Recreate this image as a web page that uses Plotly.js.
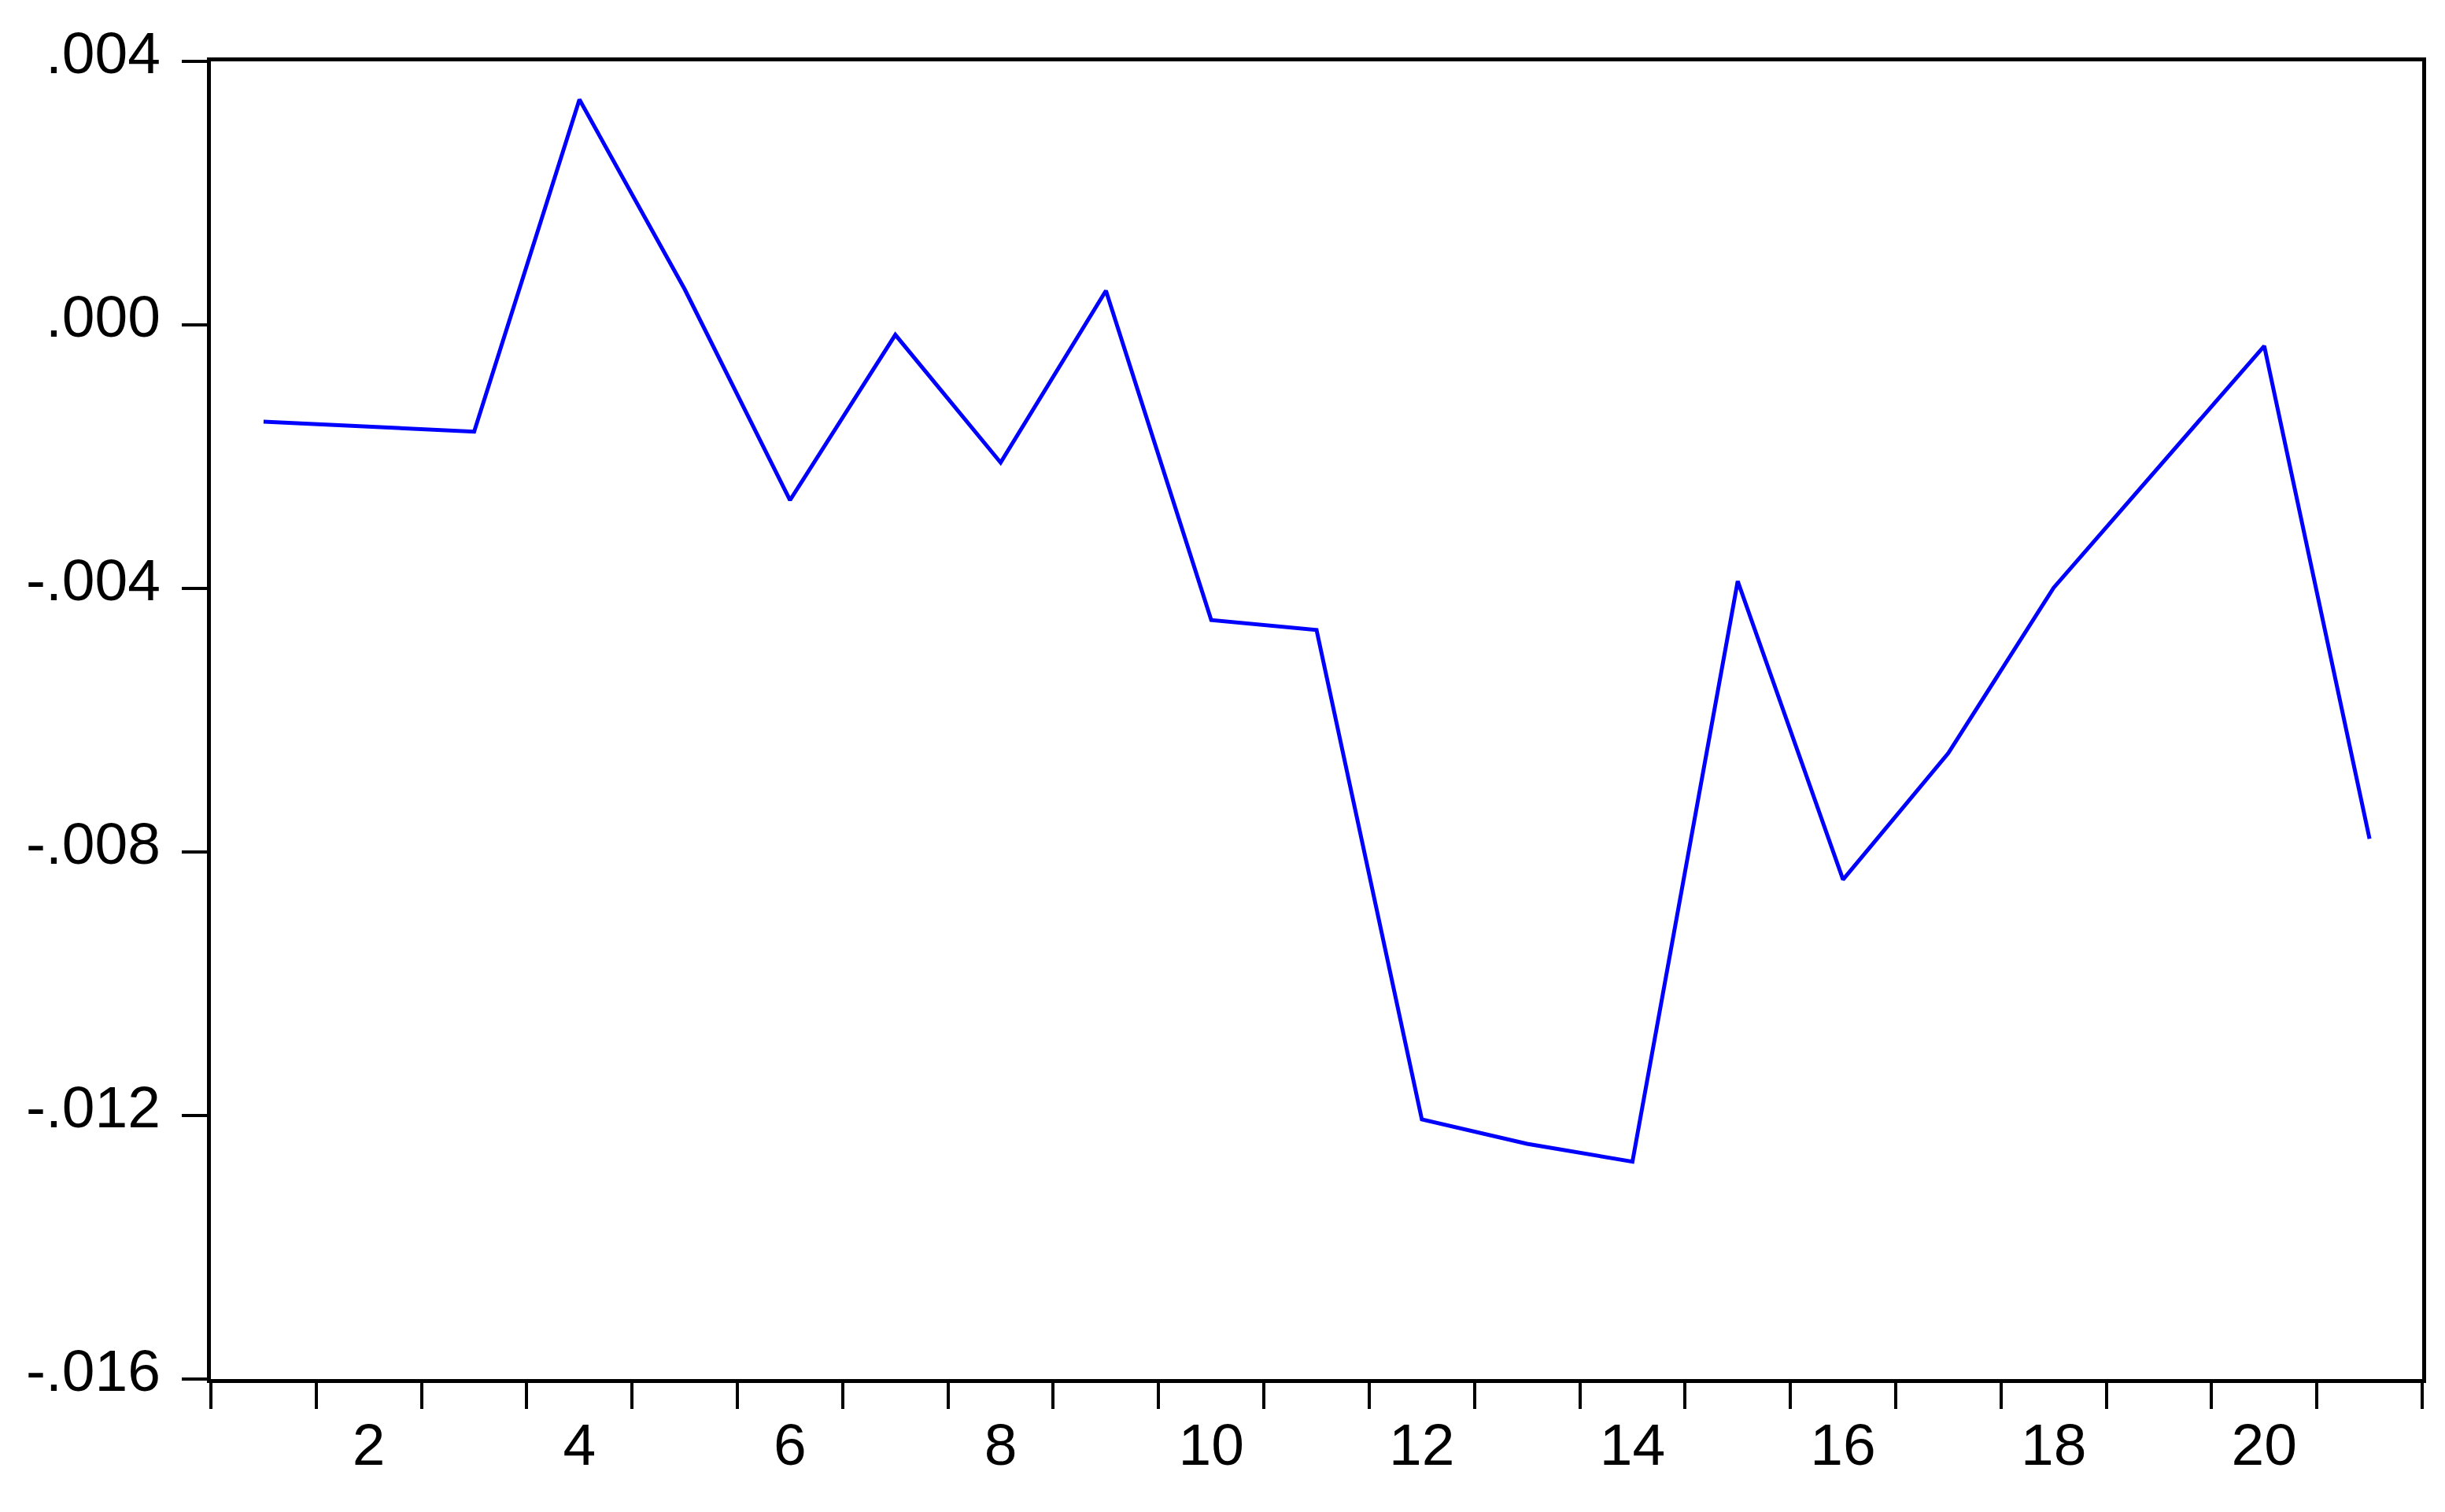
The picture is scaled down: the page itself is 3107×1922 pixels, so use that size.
<!DOCTYPE html>
<html>
<head>
<meta charset="utf-8">
<script src="https://cdn.plot.ly/plotly-3.0.1.min.js"></script>
<style>
  body { margin: 0; background: #fff; }
  #chart { width: 3107px; height: 1922px; }
</style>
</head>
<body>
<div id="chart"></div>
<script>
// observation numbers
const obs = [1, 2, 3, 4, 5, 6, 7, 8, 9, 10, 11, 12, 13, 14, 15, 16, 17, 18, 19, 20, 21];

// series values
const values = [-0.00147, -0.00155, -0.00162, 0.00342, 0.00054, -0.00266, -0.00015,
  -0.00209, 0.00052, -0.00448, -0.00463, -0.01206, -0.01243, -0.0127, -0.00389,
  -0.00842, -0.0065, -0.00399, -0.00215, -0.00032, -0.0078];

// tick labels
const xTickVals = [2, 4, 6, 8, 10, 12, 14, 16, 18, 20];
const yTickVals = [0.004, 0.000, -0.004, -0.008, -0.012, -0.016];
const yTickText = [".004", ".000", "-.004", "-.008", "-.012", "-.016"];

const traces = [{
  x: obs,
  y: values,
  mode: "lines",
  type: "scatter",
  line: {color: "#0000ff", width: 5}
}];

const layout = {
  width: 3107,
  height: 1922,
  margin: {l: 268, r: 29, t: 78, b: 169},
  paper_bgcolor: "#fff",
  plot_bgcolor: "#fff",
  showlegend: false,
  font: {family: "Liberation Sans, Arial, sans-serif", size: 75, color: "#000"},
  xaxis: {
    range: [0.5, 21.5],
    tickmode: "array",
    tickvals: xTickVals,
    // major ticks only place the labels, the visible ticks are the minor ones
    ticks: "outside",
    ticklen: 14,
    tickcolor: "rgba(0,0,0,0)",
    showgrid: false,
    zeroline: false,
    showline: true,
    linecolor: "#000",
    linewidth: 5,
    mirror: true,
    minor: {
      tickmode: "linear",
      tick0: 0.5,
      dtick: 1,
      ticks: "outside",
      ticklen: 33,
      tickwidth: 4,
      tickcolor: "#000",
      showgrid: false
    }
  },
  yaxis: {
    range: [-0.016, 0.004],
    tickmode: "array",
    tickvals: yTickVals,
    ticktext: yTickText,
    ticks: "outside",
    ticklen: 32,
    tickwidth: 4,
    tickcolor: "#000",
    ticklabelstandoff: 12,
    ticklabelshift: -11,
    showgrid: false,
    zeroline: false,
    showline: true,
    linecolor: "#000",
    linewidth: 5,
    mirror: true
  }
};

Plotly.newPlot("chart", traces, layout, {staticPlot: true});
</script>
</body>
</html>
